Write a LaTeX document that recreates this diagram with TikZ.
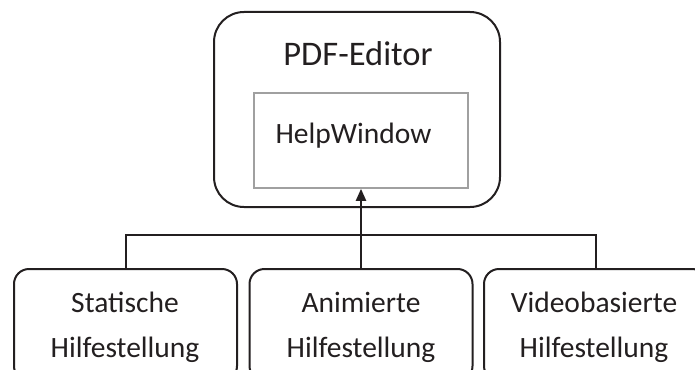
\documentclass[tikz,border=0pt]{standalone}
\usepackage{fontspec}
\setmainfont{Carlito}
\usetikzlibrary{arrows.meta}
\definecolor{ink}{HTML}{231F20}
\definecolor{frame}{HTML}{A0A0A0}
\begin{document}
\begin{tikzpicture}[x=1pt,y=-1pt,
  box/.style={draw=ink,line width=2pt,rounded corners=15pt,minimum width=223pt,minimum height=112pt,anchor=north,inner sep=0pt},
  lbl/.style={anchor=base,inner sep=0pt,text=ink,font=\fontsize{29.5}{36}\selectfont},
  big/.style={anchor=base,inner sep=0pt,text=ink,font=\fontsize{34.5}{40}\selectfont},
  conn/.style={draw=ink,line width=2pt},
  arr/.style={draw=ink,line width=2.2pt,-{Triangle[length=12pt,width=10pt]}}]
\useasboundingbox (0,0) rectangle (695,369);
\clip (0,0) rectangle (695,369);
\node[draw=ink,line width=2pt,rounded corners=30pt,minimum width=286pt,minimum height=195pt,inner sep=0pt] (main) at (357,109.5) {};
\node[big] (title) at (358,65) {PDF-Editor};
\node[draw=frame,line width=1.6pt,minimum width=214pt,minimum height=95pt,inner sep=0pt] (help) at (361,140.5) {};
\node[lbl] (helpl) at (353.5,143) {HelpWindow};
\node[box] (b1) at (125.5,268) {};
\node[box] (b2) at (361,268) {};
\node[box] (b3) at (595.5,268) {};
\node[lbl] (l1a) at (125,312) {Statische};
\node[lbl] (l1b) at (125,357) {Hilfestellung};
\node[lbl] (l2a) at (361,312) {Animierte};
\node[lbl] (l2b) at (361,357) {Hilfestellung};
\node[lbl] (l3a) at (594,312) {Videobasierte};
\node[lbl] (l3b) at (594,357) {Hilfestellung};
\coordinate (bus) at (361,235);
\draw[conn] (b1.north) |- (bus) -| (b3.north);
\draw[arr] (b2.north) -- (help.south);
\end{tikzpicture}
\end{document}
